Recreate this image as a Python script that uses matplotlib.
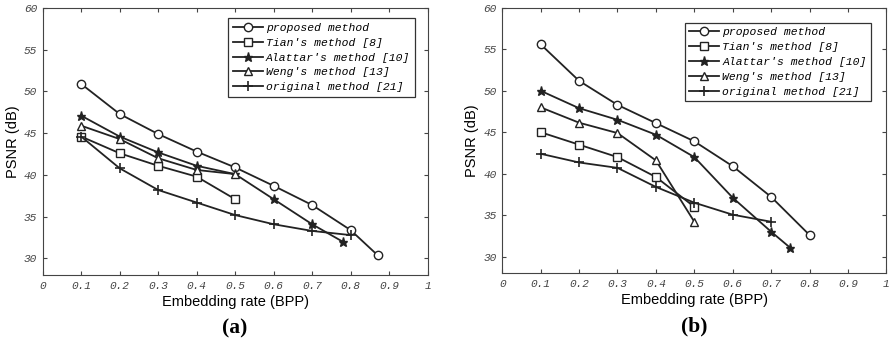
import matplotlib
matplotlib.use('Agg')
import matplotlib.pyplot as plt

labels = ['proposed method', "Tian's method [8]", "Alattar's method [10]",
          "Weng's method [13]", 'original method [21]']
markers = ['o', 's', '*', '^', '+']

# panel (a)
a_prop_x = [0.1, 0.2, 0.3, 0.4, 0.5, 0.6, 0.7, 0.8, 0.87]
a_prop_y = [50.9, 47.3, 44.9, 42.8, 40.9, 38.7, 36.4, 33.4, 30.4]
a_tian_x = [0.1, 0.2, 0.3, 0.4, 0.5]
a_tian_y = [44.6, 42.6, 41.1, 39.8, 37.1]
a_alat_x = [0.1, 0.2, 0.3, 0.4, 0.5, 0.6, 0.7, 0.78]
a_alat_y = [47.1, 44.6, 42.7, 41.1, 40.1, 37.1, 34.1, 32.0]
a_weng_x = [0.1, 0.2, 0.3, 0.4, 0.5]
a_weng_y = [45.9, 44.3, 42.0, 40.6, 40.1]
a_orig_x = [0.1, 0.2, 0.3, 0.4, 0.5, 0.6, 0.7, 0.8]
a_orig_y = [44.6, 40.8, 38.2, 36.7, 35.2, 34.1, 33.3, 32.8]

# panel (b)
b_prop_x = [0.1, 0.2, 0.3, 0.4, 0.5, 0.6, 0.7, 0.8]
b_prop_y = [55.6, 51.2, 48.3, 46.1, 43.9, 40.9, 37.2, 32.6]
b_tian_x = [0.1, 0.2, 0.3, 0.4, 0.5]
b_tian_y = [45.0, 43.5, 42.0, 39.6, 36.0]
b_alat_x = [0.1, 0.2, 0.3, 0.4, 0.5, 0.6, 0.7, 0.75]
b_alat_y = [50.0, 47.9, 46.5, 44.7, 42.0, 37.1, 33.0, 31.05]
b_weng_x = [0.1, 0.2, 0.3, 0.4, 0.5]
b_weng_y = [48.0, 46.15, 44.9, 41.6, 34.2]
b_orig_x = [0.1, 0.2, 0.3, 0.4, 0.5, 0.6, 0.7]
b_orig_y = [42.4, 41.35, 40.7, 38.4, 36.5, 35.05, 34.2]

xticks = [0, 0.1, 0.2, 0.3, 0.4, 0.5, 0.6, 0.7, 0.8, 0.9, 1]
xtick_labels = ['0', '0.1', '0.2', '0.3', '0.4', '0.5', '0.6', '0.7', '0.8', '0.9', '1']
yticks = [30, 35, 40, 45, 50, 55, 60]

mono = 'Liberation Mono'
sans = 'Liberation Sans'
lc = '#222222'

fig = plt.figure(figsize=(8.89, 3.44), dpi=100)
ax_a = fig.add_axes([0.048, 0.200, 0.433, 0.777])
ax_b = fig.add_axes([0.565, 0.206, 0.432, 0.771])

def draw(ax, series, tag, legend_bbox):
  for (xs, ys), lab, mk in zip(series, labels, markers):
    if mk == '*':
      ax.plot(xs, ys, color=lc, lw=1.3, marker=mk, ms=6.5, mfc=lc, mec=lc, label=lab)
    elif mk == '+':
      ax.plot(xs, ys, color=lc, lw=1.3, marker=mk, ms=7, mew=1.2, label=lab)
    else:
      ax.plot(xs, ys, color=lc, lw=1.3, marker=mk, ms=6, mfc='white', mec=lc, mew=1.0, label=lab)
  ax.set_xlim(0, 1)
  ax.set_ylim(28, 60)
  ax.set_xticks(xticks)
  ax.set_xticklabels(xtick_labels, family=mono, style='italic', fontsize=8, color='#444444')
  ax.set_yticks(yticks)
  ax.set_yticklabels([str(v) for v in yticks], family=mono, style='italic', fontsize=8, color='#444444')
  ax.tick_params(direction='in', length=3, top=True, right=True, color='#444444', pad=4)
  for sp in ax.spines.values():
    sp.set_color('#444444')
    sp.set_linewidth(0.8)
  ax.set_xlabel('Embedding rate (BPP)', family=sans, fontsize=10.5, labelpad=3)
  ax.set_ylabel('PSNR (dB)', family=sans, fontsize=10.5, labelpad=3)
  leg = ax.legend(loc='upper right', bbox_to_anchor=legend_bbox,
                  prop={'family': mono, 'style': 'italic', 'size': 8.2},
                  fancybox=False, edgecolor='#333333', framealpha=1,
                  handlelength=2.6, labelspacing=0.42, borderpad=0.4, handletextpad=0.3)
  leg.get_frame().set_linewidth(0.9)
  ax.text(0.5, -0.2, tag, transform=ax.transAxes, ha='center', va='center',
          family='Liberation Serif', fontweight='bold', fontsize=15.5)

draw(ax_a, [(a_prop_x, a_prop_y), (a_tian_x, a_tian_y), (a_alat_x, a_alat_y),
            (a_weng_x, a_weng_y), (a_orig_x, a_orig_y)], '(a)', (0.982, 0.982))
draw(ax_b, [(b_prop_x, b_prop_y), (b_tian_x, b_tian_y), (b_alat_x, b_alat_y),
            (b_weng_x, b_weng_y), (b_orig_x, b_orig_y)], '(b)', (0.975, 0.965))

fig.savefig('out.png', dpi=100)
